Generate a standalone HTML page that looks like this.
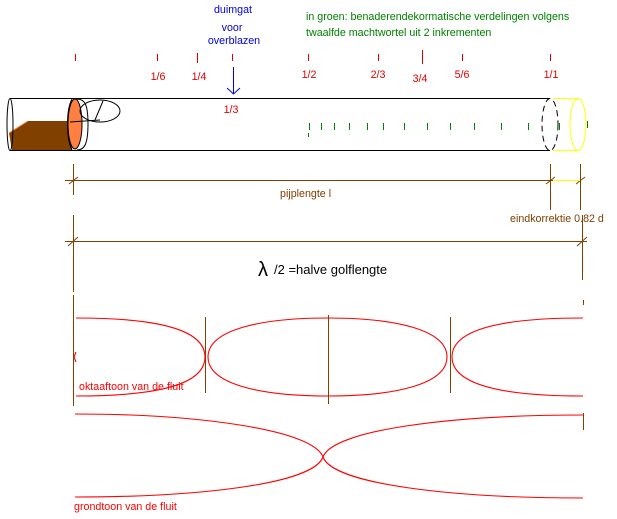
<!DOCTYPE html>
<html><head><meta charset="utf-8"><style>
body{margin:0;background:#fff}
svg{display:block}
text{font-family:"Liberation Sans",sans-serif;font-size:10.7px}
</style></head><body>
<svg width="617" height="519" viewBox="0 0 617 519" xmlns="http://www.w3.org/2000/svg">
<g fill="#0000e0" text-anchor="middle">
<text x="233" y="13">duimgat</text>
<text x="232" y="31">voor</text>
<text x="234" y="44">overblazen</text>
</g>
<g fill="#008000">
<text x="306" y="20">in groen: benaderendekormatische verdelingen volgens</text>
<text x="306" y="36">twaalfde machtwortel uit 2 inkrementen</text>
</g>
<g stroke="#e00000" stroke-width="1">
<line x1="75.5" y1="54" x2="75.5" y2="61"/><line x1="157.5" y1="54" x2="157.5" y2="61"/>
<line x1="197.5" y1="53" x2="197.5" y2="63"/><line x1="232.5" y1="54" x2="232.5" y2="61"/>
<line x1="308.5" y1="54" x2="308.5" y2="61"/><line x1="378.5" y1="54" x2="378.5" y2="61"/>
<line x1="422.5" y1="50" x2="422.5" y2="64"/><line x1="462.5" y1="54" x2="462.5" y2="61"/>
<line x1="550.5" y1="54" x2="550.5" y2="61"/>
</g>
<g fill="#e00000" text-anchor="middle">
<text x="158" y="80">1/6</text><text x="199" y="80">1/4</text><text x="309" y="78">1/2</text>
<text x="378" y="78">2/3</text><text x="420" y="82">3/4</text><text x="462" y="78">5/6</text>
<text x="551" y="78">1/1</text><text x="231" y="113">1/3</text>
</g>
<g stroke="#0000e0" fill="none"><line x1="233.5" y1="67" x2="233.5" y2="94"/><polyline points="227,88 233.5,94 240,88"/></g>
<g stroke="#000" fill="none">
<line x1="10" y1="98.5" x2="550" y2="98.5"/><line x1="10" y1="150.5" x2="550" y2="150.5"/>
</g>
<polygon points="9,133 28,121 70,121 72,150 12,150" fill="#804000"/>
<line x1="9" y1="133" x2="28" y2="121" stroke="#ff8040"/>
<ellipse cx="75" cy="124" rx="7" ry="25" fill="#ff8040" stroke="#000"/>
<g stroke="#000" fill="none">
<ellipse cx="10" cy="124.5" rx="3" ry="26"/>
<path d="M77,99 C85,99 88,105 88,124 C88,143 85,150 77,150"/>
<path d="M72,99 C66,110 66,138 72,150"/>
<ellipse cx="100" cy="111" rx="20" ry="11"/>
<line x1="103" y1="101" x2="95" y2="120"/>
<line x1="70" y1="122" x2="100" y2="120"/>
<ellipse cx="550" cy="124.5" rx="8" ry="26" stroke-dasharray="6,4"/>
</g>
<g stroke="#ffff00" fill="none">
<ellipse cx="578" cy="124.5" rx="8" ry="26"/>
<line x1="553" y1="98.5" x2="578" y2="98.5"/><line x1="553" y1="150.5" x2="578" y2="150.5"/>
</g>
<g stroke="#008000">
<line x1="309.5" y1="123" x2="309.5" y2="130"/><line x1="308.5" y1="133" x2="308.5" y2="137"/>
<line x1="321.5" y1="123" x2="321.5" y2="130"/><line x1="334.5" y1="123" x2="334.5" y2="130"/>
<line x1="349.5" y1="123" x2="349.5" y2="130"/><line x1="367.5" y1="123" x2="367.5" y2="130"/>
<line x1="383.5" y1="123" x2="383.5" y2="130"/><line x1="404.5" y1="123" x2="404.5" y2="130"/>
<line x1="427.5" y1="123" x2="427.5" y2="130"/><line x1="450.5" y1="123" x2="450.5" y2="130"/>
<line x1="474.5" y1="123" x2="474.5" y2="130"/><line x1="501.5" y1="123" x2="501.5" y2="130"/>
<line x1="528.5" y1="123" x2="528.5" y2="130"/><line x1="559.5" y1="123" x2="559.5" y2="130"/>
<line x1="587.5" y1="121" x2="587.5" y2="128"/>
</g>
<g stroke="#804000" fill="none">
<line x1="65" y1="180.5" x2="553" y2="180.5"/>
<line x1="73.5" y1="164" x2="73.5" y2="195"/>
<line x1="550.5" y1="164" x2="550.5" y2="210"/>
<line x1="580.5" y1="164" x2="580.5" y2="210"/>
<line x1="69" y1="184" x2="78" y2="177"/><line x1="546" y1="184" x2="555" y2="177"/><line x1="576" y1="184" x2="585" y2="177"/>
<line x1="65" y1="241.5" x2="587" y2="241.5"/>
<line x1="73.5" y1="215" x2="73.5" y2="292"/>
<line x1="582.5" y1="215" x2="582.5" y2="280"/>
<line x1="68" y1="246" x2="78" y2="237"/><line x1="577" y1="246" x2="587" y2="237"/>
</g>
<line x1="553" y1="180.5" x2="580" y2="180.5" stroke="#ffff00"/>
<g fill="#804000">
<text x="280" y="197">pijplengte l</text>
<text x="510" y="222">eindkorrektie 0.82 d</text>
</g>
<text x="258" y="276" fill="#000" style="font-size:20px">λ</text>
<text x="274" y="274" fill="#000" style="font-size:13px">/2 =halve golflengte</text>
<g stroke="#804000" fill="none">
<line x1="73.5" y1="295" x2="73.5" y2="406"/>
<line x1="205.5" y1="317" x2="205.5" y2="393"/>
<line x1="328.5" y1="315" x2="328.5" y2="404"/>
<line x1="450.5" y1="317" x2="450.5" y2="393"/>
<line x1="583.5" y1="300" x2="583.5" y2="305"/>
<line x1="583.5" y1="413" x2="583.5" y2="430"/>
</g>
<g stroke="#ff0000" fill="none" stroke-width="1.1">
<path d="M76,318 C160,318 205,330 205,357 C205,384 160,396 76,396"/>
<path d="M208,357 C208,330 260,318 328,318 C396,318 447,330 447,357 C447,384 396,396 328,396 C260,396 208,384 208,357Z"/>
<path d="M583,318 C500,318 452,330 452,357 C452,384 500,396 583,396"/>
<path d="M76,352 L74,357 L76,362"/>
<path d="M75,414 C200,414 313,430 323,457 C333,430 450,415 583,415"/>
<path d="M75,497 C200,497 313,484 323,457 C333,484 450,498 583,498"/>
</g>
<g fill="#ff0000">
<text x="79" y="390">oktaaftoon van de fluit</text>
<text x="74" y="510">grondtoon van de fluit</text>
</g>
</svg>
</body></html>
